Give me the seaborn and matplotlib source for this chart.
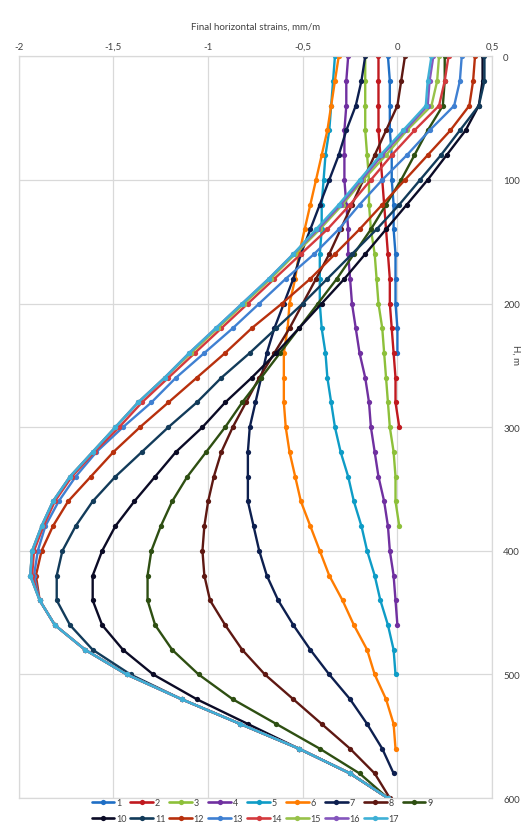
import numpy as np
import pandas as pd
import seaborn as sns
import matplotlib.pyplot as plt
from matplotlib.lines import Line2D
from matplotlib.ticker import FuncFormatter

# depth grid, m (every 20 m)
depth = list(range(0, 620, 20))

# final horizontal strains, mm/m (series end at different depths)
s1 = [-0.05, -0.04, -0.04, -0.04, -0.03, -0.03, -0.02, -0.02, -0.01, -0.01, -0.01, 0.0, 0.0]
s2 = [-0.10, -0.10, -0.10, -0.10, -0.09, -0.08, -0.07, -0.06, -0.05, -0.04, -0.04, -0.03, -0.02,
      -0.01, -0.01, 0.01]
s3 = [-0.17, -0.17, -0.17, -0.17, -0.16, -0.15, -0.15, -0.14, -0.12, -0.11, -0.10, -0.08, -0.07,
      -0.06, -0.05, -0.04, -0.02, -0.01, -0.01, 0.01]
s4 = [-0.26, -0.27, -0.27, -0.28, -0.28, -0.28, -0.27, -0.26, -0.26, -0.25, -0.24, -0.22, -0.20,
      -0.17, -0.15, -0.14, -0.12, -0.10, -0.07, -0.05, -0.04, -0.02, -0.01, 0.0]
s5 = [-0.33, -0.34, -0.35, -0.36, -0.38, -0.39, -0.40, -0.40, -0.41, -0.41, -0.41, -0.40, -0.38,
      -0.37, -0.35, -0.33, -0.30, -0.26, -0.23, -0.19, -0.16, -0.12, -0.09, -0.05, -0.02, -0.01]
s6 = [-0.31, -0.33, -0.35, -0.37, -0.40, -0.43, -0.46, -0.49, -0.52, -0.54, -0.57, -0.58, -0.60,
      -0.60, -0.60, -0.59, -0.57, -0.54, -0.51, -0.46, -0.41, -0.36, -0.29, -0.23, -0.16, -0.12,
      -0.06, -0.02, -0.01]
s7 = [-0.17, -0.19, -0.22, -0.27, -0.31, -0.36, -0.41, -0.46, -0.51, -0.55, -0.60, -0.65, -0.69,
      -0.72, -0.75, -0.78, -0.79, -0.79, -0.79, -0.76, -0.73, -0.69, -0.63, -0.55, -0.46, -0.36,
      -0.25, -0.16, -0.08, -0.02]
s8 = [0.04, 0.02, 0.0, -0.06, -0.12, -0.18, -0.24, -0.30, -0.36, -0.43, -0.50, -0.57, -0.65,
      -0.73, -0.80, -0.87, -0.93, -0.97, -1.00, -1.02, -1.03, -1.02, -0.99, -0.91, -0.82, -0.70,
      -0.55, -0.40, -0.25, -0.12, -0.04]
s9 = [0.25, 0.25, 0.24, 0.16, 0.09, 0.02, -0.06, -0.14, -0.23, -0.32, -0.42, -0.52, -0.62,
      -0.72, -0.82, -0.91, -1.01, -1.11, -1.19, -1.25, -1.30, -1.32, -1.32, -1.28, -1.19, -1.05,
      -0.87, -0.64, -0.41, -0.20, -0.05]
s10 = [0.45, 0.45, 0.43, 0.36, 0.26, 0.16, 0.05, -0.06, -0.17, -0.28, -0.40, -0.52, -0.64,
       -0.77, -0.91, -1.03, -1.17, -1.28, -1.39, -1.49, -1.56, -1.61, -1.61, -1.56, -1.45, -1.29,
       -1.06, -0.79, -0.52, -0.25, -0.05]
s11 = [0.46, 0.46, 0.43, 0.33, 0.23, 0.12, 0.01, -0.11, -0.24, -0.37, -0.50, -0.64, -0.78,
       -0.93, -1.06, -1.21, -1.35, -1.49, -1.61, -1.70, -1.77, -1.80, -1.80, -1.73, -1.61, -1.41,
       -1.14, -0.83, -0.52, -0.25, -0.05]
s12 = [0.41, 0.40, 0.38, 0.28, 0.16, 0.04, -0.08, -0.20, -0.33, -0.46, -0.61, -0.77, -0.91,
       -1.06, -1.21, -1.36, -1.50, -1.62, -1.74, -1.82, -1.88, -1.91, -1.89, -1.81, -1.65, -1.43,
       -1.14, -0.83, -0.52, -0.25, -0.05]
s13 = [0.34, 0.33, 0.30, 0.17, 0.05, -0.08, -0.20, -0.31, -0.44, -0.59, -0.73, -0.87, -1.02,
       -1.17, -1.30, -1.45, -1.59, -1.70, -1.79, -1.86, -1.90, -1.92, -1.89, -1.81, -1.65, -1.43,
       -1.14, -0.83, -0.52, -0.25, -0.05]
s14 = [0.27, 0.25, 0.22, 0.09, -0.03, -0.14, -0.25, -0.37, -0.51, -0.65, -0.79, -0.93, -1.07,
       -1.21, -1.35, -1.47, -1.60, -1.72, -1.81, -1.87, -1.92, -1.93, -1.89, -1.81, -1.65, -1.43,
       -1.14, -0.83, -0.52, -0.25, -0.05]
s15 = [0.22, 0.21, 0.18, 0.05, -0.06, -0.18, -0.29, -0.41, -0.54, -0.67, -0.81, -0.95, -1.09,
       -1.23, -1.37, -1.49, -1.61, -1.73, -1.82, -1.88, -1.93, -1.94, -1.89, -1.81, -1.65, -1.43,
       -1.14, -0.83, -0.52, -0.25, -0.05]
s16 = [0.19, 0.17, 0.16, 0.04, -0.08, -0.19, -0.30, -0.42, -0.55, -0.68, -0.82, -0.96, -1.10,
       -1.23, -1.37, -1.49, -1.61, -1.73, -1.82, -1.88, -1.93, -1.94, -1.89, -1.81, -1.65, -1.43,
       -1.14, -0.83, -0.52, -0.25, -0.05]
s17 = [0.18, 0.16, 0.15, 0.03, -0.09, -0.20, -0.31, -0.43, -0.55, -0.68, -0.82, -0.96, -1.10,
       -1.23, -1.37, -1.49, -1.61, -1.73, -1.82, -1.88, -1.93, -1.94, -1.89, -1.81, -1.65, -1.43,
       -1.14, -0.83, -0.52, -0.25, -0.05]

series = [s1, s2, s3, s4, s5, s6, s7, s8, s9, s10, s11, s12, s13, s14, s15, s16, s17]
names = [str(i) for i in range(1, 18)]
colors = ['#1F6FC5', '#C0191F', '#8DC03A', '#7030A0', '#0E9CC6', '#FF7C00', '#0D1F4F',
          '#5E1812', '#2E4F12', '#0B0B26', '#123B5A', '#B8300D', '#3F80D2', '#D43A3E',
          '#98C24A', '#8556BD', '#3FB0D6']

# long form frame
rows = []
for name, vals in zip(names, series):
    for h, v in zip(depth, vals):
        rows.append((name, h, v))
df = pd.DataFrame(rows, columns=['series', 'H', 'strain'])

sns.set_style('white')
plt.rcParams['font.family'] = ['Lato', 'DejaVu Sans']
txt = '#404040'

fig = plt.figure(figsize=(5.24, 8.29), dpi=100)
ax = fig.add_axes([0.036, 0.036, 0.903, 0.895])

sns.lineplot(data=df, x='strain', y='H', hue='series', palette=dict(zip(names, colors)),
             hue_order=names, estimator=None, sort=False, orient='y', marker='o',
             markersize=3.8, markeredgewidth=0, linewidth=1.7, legend=False, ax=ax)

ax.set_xlim(-2, 0.5)
ax.set_ylim(600, 0)
ax.set_xticks([-2, -1.5, -1, -0.5, 0, 0.5])
ax.xaxis.set_major_formatter(FuncFormatter(lambda v, p: ('%g' % v).replace('.', ',')))
ax.set_yticks([0, 100, 200, 300, 400, 500, 600])
ax.xaxis.tick_top()
ax.xaxis.set_label_position('top')
ax.yaxis.tick_right()
ax.yaxis.set_label_position('right')
ax.tick_params(length=0, labelsize=7, colors=txt)
ax.tick_params(axis='x', pad=4)
ax.tick_params(axis='y', pad=8)
ax.set_xlabel('Final horizontal strains, mm/m', fontsize=7, color=txt, labelpad=9)
ax.set_ylabel('H, m', fontsize=7, color=txt, rotation=-90, va='center', ha='center')
ax.yaxis.set_label_coords(1.05, 0.598)

ax.grid(True, color='#D9D9D9', linewidth=0.9)
for sp in ax.spines.values():
    sp.set_color('#D9D9D9')
    sp.set_linewidth(0.9)

# legend: row 1 -> 1..9, row 2 -> 10..17 (columns hold k and k+9)
handles = [Line2D([0], [0], color=c, marker='o', markersize=3.8, markeredgewidth=0,
                  linewidth=1.9) for c in colors]
order = []
for k in range(9):
    order.append(k)
    if k + 9 < 17:
        order.append(k + 9)
fig.legend([handles[i] for i in order], [names[i] for i in order], ncol=9,
           loc='center', bbox_to_anchor=(0.5, 0.021), frameon=False, fontsize=6.5,
           handlelength=2.5, handletextpad=0.2, columnspacing=0.45, labelspacing=0.75,
           labelcolor=txt)

fig.savefig('out.png', dpi=100)
